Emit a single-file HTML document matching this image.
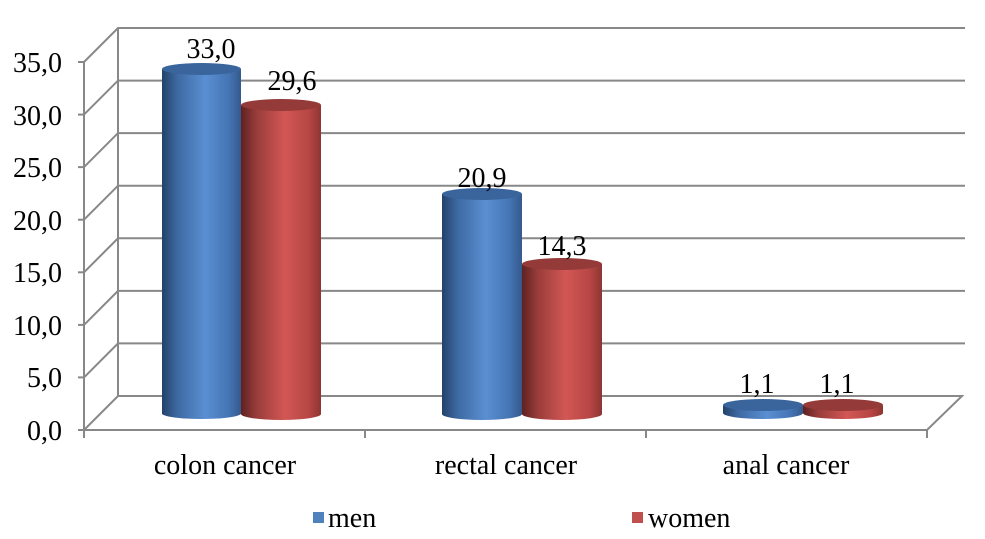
<!DOCTYPE html><html><head><style>body{margin:0;background:#fff}svg{display:block}text{font-family:"Liberation Serif",serif;font-size:28px;fill:#000}</style></head><body>
<svg width="985" height="539" viewBox="0 0 985 539">
<defs>
<linearGradient id="b" x1="0" x2="1"><stop offset="0" stop-color="#23426b"/><stop offset=".2" stop-color="#3e6aa3"/><stop offset=".55" stop-color="#5a8fd3"/><stop offset=".85" stop-color="#4474b3"/><stop offset="1" stop-color="#35598c"/></linearGradient>
<linearGradient id="r" x1="0" x2="1"><stop offset="0" stop-color="#5e2221"/><stop offset=".2" stop-color="#9a3d3b"/><stop offset=".55" stop-color="#d25755"/><stop offset=".85" stop-color="#b64644"/><stop offset="1" stop-color="#8c3533"/></linearGradient>
</defs>
<g stroke="#888" stroke-width="2" fill="none">
<line x1="118" y1="28" x2="118" y2="396"/>
<polyline points="84,430 118,396 962,396 927,430 84,430"/>
<polyline points="84,377.4 118,343.4 965,343.4"/>
<polyline points="84,324.9 118,290.9 965,290.9"/>
<polyline points="84,272.3 118,238.3 965,238.3"/>
<polyline points="84,219.7 118,185.7 965,185.7"/>
<polyline points="84,167.1 118,133.1 965,133.1"/>
<polyline points="84,114.6 118,80.6 965,80.6"/>
<polyline points="84,62 118,28 965,28"/>
<line x1="84" y1="62" x2="84" y2="438"/>
<line x1="78" y1="430" x2="84" y2="430"/><line x1="78" y1="377.4" x2="84" y2="377.4"/><line x1="78" y1="324.9" x2="84" y2="324.9"/><line x1="78" y1="272.3" x2="84" y2="272.3"/><line x1="78" y1="219.7" x2="84" y2="219.7"/><line x1="78" y1="167.1" x2="84" y2="167.1"/><line x1="78" y1="114.6" x2="84" y2="114.6"/><line x1="78" y1="62" x2="84" y2="62"/>
<line x1="365" y1="430" x2="365" y2="438"/><line x1="646" y1="430" x2="646" y2="438"/><line x1="927" y1="430" x2="927" y2="438"/>
</g>
<g text-anchor="end">
<text x="62" y="440">0,0</text><text x="62" y="387">5,0</text><text x="62" y="335">10,0</text><text x="62" y="282">15,0</text><text x="62" y="230">20,0</text><text x="62" y="177">25,0</text><text x="62" y="125">30,0</text><text x="62" y="72">35,0</text>
</g>
<g>
<path d="M162,69 V414 A40,6 0 0 0 241,414 V69 Z" fill="url(#b)"/><ellipse cx="201.5" cy="69" rx="39.5" ry="6" fill="#3a649c"/>
<path d="M241,105 V414 A40,6 0 0 0 321,414 V105 Z" fill="url(#r)"/><ellipse cx="281" cy="105" rx="40" ry="6" fill="#943a38"/>
<path d="M442,194 V414 A40,6 0 0 0 522,414 V194 Z" fill="url(#b)"/><ellipse cx="482" cy="194" rx="40" ry="6" fill="#3a649c"/>
<path d="M522,264 V414 A40,6 0 0 0 602,414 V264 Z" fill="url(#r)"/><ellipse cx="562" cy="264" rx="40" ry="6" fill="#943a38"/>
<path d="M723,405 V413 A40,6 0 0 0 803,413 V405 Z" fill="url(#b)"/><ellipse cx="763" cy="405" rx="40" ry="6" fill="#3a649c"/>
<path d="M803,405 V413 A40,6 0 0 0 883,413 V405 Z" fill="url(#r)"/><ellipse cx="843" cy="405" rx="40" ry="6" fill="#943a38"/>
</g>
<g text-anchor="middle">
<text x="211" y="58">33,0</text><text x="292" y="90">29,6</text>
<text x="482" y="187">20,9</text><text x="562" y="255">14,3</text>
<text x="757" y="393">1,1</text><text x="837" y="393">1,1</text>
<text x="225" y="474">colon cancer</text><text x="506" y="474">rectal cancer</text><text x="786" y="474">anal cancer</text>
</g>
<rect x="313" y="512" width="11" height="11" fill="#4f81bd"/><text x="328" y="527">men</text>
<rect x="632" y="512" width="11" height="11" fill="#c0504d"/><text x="648" y="527">women</text>
</svg></body></html>
